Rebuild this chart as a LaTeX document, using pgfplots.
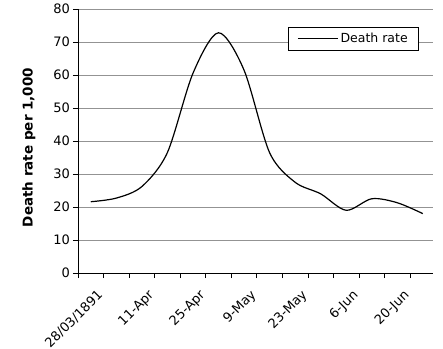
\documentclass[border=0pt]{standalone}
\usepackage{pgfplots}
\pgfplotsset{compat=1.18}
\usepackage{fontspec}
\setmainfont{DejaVu Sans}
\begin{document}
\begin{tikzpicture}
\path[use as bounding box] (-78pt,-75pt) rectangle (365pt,273pt);
\begin{axis}[
  scale only axis,
  width=355pt, height=264pt,
  at={(0,0)}, anchor=south west,
  xmin=-0.5, xmax=13.4,
  ymin=0, ymax=80,
  ytick={0,10,...,80},
  minor ytick={0,10,...,80},
  xtick={0,2,...,12},
  xticklabels={28/03/1891,11-Apr,25-Apr,9-May,23-May,6-Jun,20-Jun},
  minor xtick={-0.5,0.5,...,13.5},
  axis x line*=bottom, axis y line*=left,
  axis line style={black, line width=0.8pt, -},
  tick align=outside,
  major tick length=0pt,
  minor tick length=5pt,
  tick style={black, line width=0.7pt},
  ymajorgrids,
  grid style={gray!85, line width=1pt},
  /pgf/number format/assume math mode=true,
  yticklabel style={font=\fontsize{13}{15}\selectfont, inner sep=0pt, xshift=-8pt},
  xticklabel style={font=\fontsize{13}{15}\selectfont, rotate=45, anchor=north east, inner sep=1pt, yshift=-14pt, xshift=-6pt},
  ylabel={Death rate per 1,000},
  ylabel style={font=\fontsize{13.5}{16}\bfseries\selectfont, at={(axis description cs:-0.1380,0.4754)}, anchor=center},
  legend style={at={(rel axis cs:0.9606,0.9318)}, anchor=north east, draw=black, line width=0.6pt,
    font=\fontsize{12.5}{15}\selectfont, inner xsep=9pt, inner ysep=4pt},
  legend image code/.code={\draw[#1] (0pt,0pt) -- (40pt,0pt);},
]
\addplot[black, line width=1.2pt, smooth, tension=0.5] coordinates {
(0,21.6) (1,22.7) (2,26.2) (3,36.5) (4,60.5) (5,72.8) (6,61.5)
(7,36.5) (8,27.5) (9,24) (10,19) (11,22.5) (12,21.3) (13,18)
};
\addlegendentry{Death rate}
\end{axis}
\end{tikzpicture}
\end{document}
